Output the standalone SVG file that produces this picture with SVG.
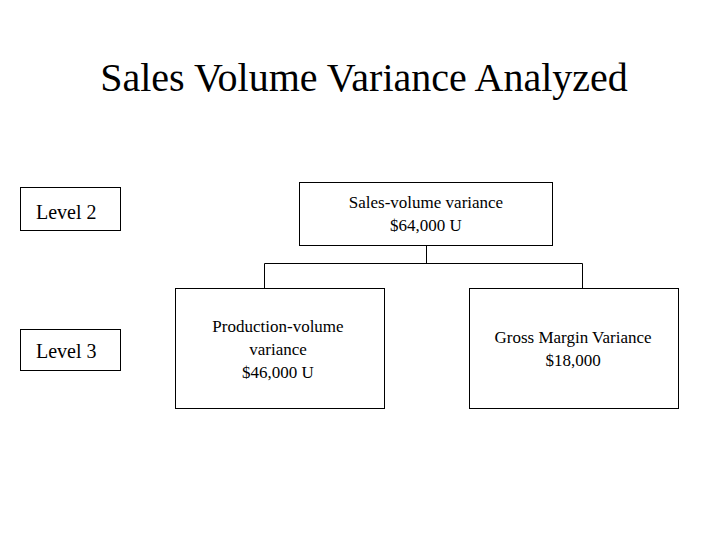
<svg xmlns="http://www.w3.org/2000/svg" width="720" height="540" viewBox="0 0 720 540">
<style>
text{font-family:"Liberation Serif","Times New Roman",serif;fill:#000}
.b{fill:#fff;stroke:#000;stroke-width:1}
.s{font-size:17px;text-anchor:middle}
.l{font-size:20px}
.c{fill:none;stroke:#000;stroke-width:1}
</style>
<rect width="720" height="540" fill="#fff"/>
<text x="364" y="91" font-size="40" text-anchor="middle">Sales Volume Variance Analyzed</text>
<g id="level2"><rect class="b" x="20.5" y="187.5" width="100" height="43"/><text class="l" x="36" y="219">Level 2</text></g>
<g id="level3"><rect class="b" x="20.5" y="329.5" width="100" height="41"/><text class="l" x="36" y="358">Level 3</text></g>
<g id="connectors">
<path class="c" d="M426.5 245V263.5M264.5 288V263.5H582.5V288"/>
</g>
<g id="sales"><rect class="b" x="299.5" y="182.5" width="253" height="63"/><text class="s" x="426" y="208">Sales-volume variance</text><text class="s" x="426" y="231">$64,000 U</text></g>
<g id="production"><rect class="b" x="175.5" y="288.5" width="209" height="120"/><text class="s" x="278" y="332">Production-volume</text><text class="s" x="278" y="355">variance</text><text class="s" x="278" y="378">$46,000 U</text></g>
<g id="gross"><rect class="b" x="469.5" y="288.5" width="209" height="120"/><text class="s" x="573" y="343">Gross Margin Variance</text><text class="s" x="573" y="366">$18,000</text></g>
</svg>
